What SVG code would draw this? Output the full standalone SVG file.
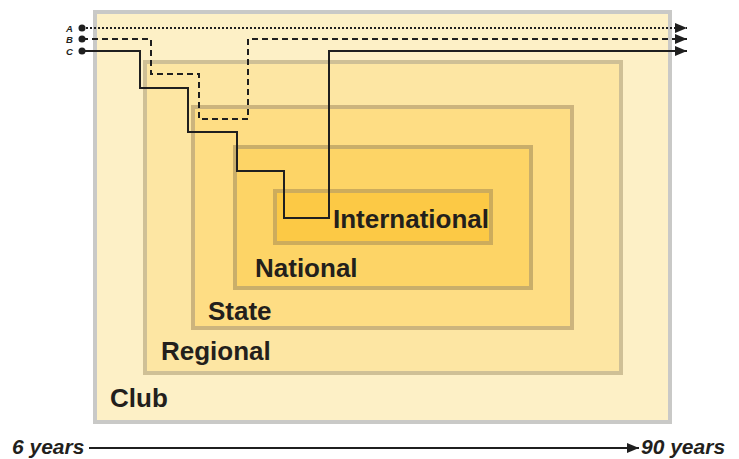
<svg xmlns="http://www.w3.org/2000/svg" width="739" height="459" viewBox="0 0 739 459">
<defs>
<style>
.lvl{stroke-width:4}
.lbl{font-family:"Liberation Sans",Arial,sans-serif;font-weight:bold;font-size:26px;fill:#231f1c}
.path{fill:none;stroke:#1f1f1f;stroke-width:2}
.dot{fill:#1f1f1f}
.abc{font-family:"Liberation Sans",Arial,sans-serif;font-style:italic;font-weight:bold;font-size:9.5px;fill:#231f1c}
.axis{font-family:"Liberation Sans",Arial,sans-serif;font-style:italic;font-weight:bold;font-size:21px;fill:#231f1c}
</style>
<marker id="arr" markerUnits="userSpaceOnUse" markerWidth="13" markerHeight="10" refX="12" refY="5" orient="auto">
<path d="M0,0 L12,5 L0,10 Z" fill="#1f1f1f"/>
</marker>
</defs>
<rect width="739" height="459" fill="#ffffff"/>
<g id="club">
<rect class="lvl" x="95" y="12" width="575" height="410" fill="#fdf0c6" stroke="#c9c9c7"/>
<text class="lbl" x="110" y="407">Club</text>
</g>
<g id="regional">
<rect class="lvl" x="145" y="62" width="476" height="311" fill="#fde6a3" stroke="#cfc096"/>
<text class="lbl" x="161" y="360">Regional</text>
</g>
<g id="state">
<rect class="lvl" x="193" y="107" width="379" height="221" fill="#fedd84" stroke="#ccb47d"/>
<text class="lbl" x="208" y="320">State</text>
</g>
<g id="national">
<rect class="lvl" x="235" y="147" width="296" height="141" fill="#fdd466" stroke="#c9ae6a"/>
<text class="lbl" x="255" y="277">National</text>
</g>
<g id="international">
<rect class="lvl" x="275" y="191" width="216" height="52" fill="#fcc945" stroke="#cdac5c"/>
<text class="lbl" x="333" y="228">International</text>
</g>
<g id="connectors">
<path class="path" d="M82,28 H687" stroke-dasharray="2 2" marker-end="url(#arr)"/>
<path class="path" d="M82,39 H151 V74 H199 V119 H248 V39 H687" stroke-dasharray="6 4" marker-end="url(#arr)"/>
<path class="path" d="M82,51 H140 V88 H188 V132 H237 V171 H284 V218 H329 V51 H687" marker-end="url(#arr)"/>
<circle class="dot" cx="82" cy="28" r="3.5"/>
<circle class="dot" cx="82" cy="39" r="3.5"/>
<circle class="dot" cx="82" cy="51" r="3.5"/>
<text class="abc" x="66" y="31.5">A</text>
<text class="abc" x="66" y="42.5">B</text>
<text class="abc" x="66" y="54.5">C</text>
<path class="path" d="M89,448 H639" marker-end="url(#arr)"/>
</g>
<text class="axis" x="12" y="454">6 years</text>
<text class="axis" x="641" y="454">90 years</text>
</svg>
